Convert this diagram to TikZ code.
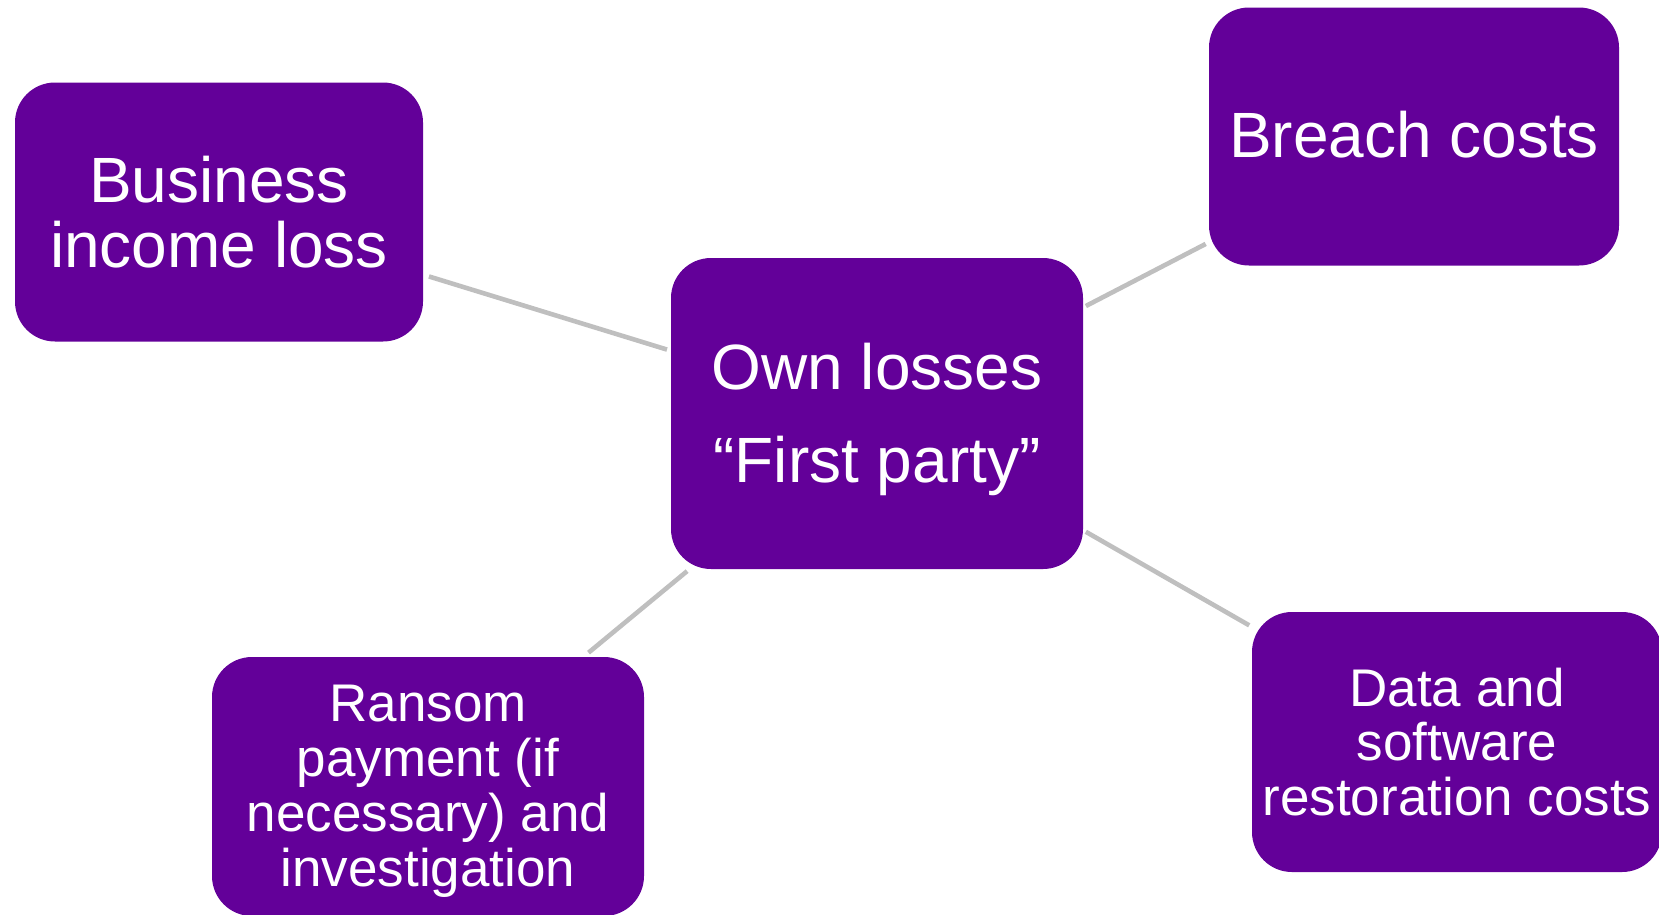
\documentclass[tikz,border=0pt]{standalone}
\usepackage{fontspec}
\setmainfont{Liberation Sans}
\definecolor{boxpurple}{HTML}{630099}
\definecolor{linkgray}{HTML}{BFBFBF}
\tikzset{
  box/.style={fill=boxpurple, draw=none, rounded corners=40pt, text=white, align=center, inner sep=0pt},
  lbl/.style={text=white, align=center, inner sep=0pt},
  link/.style={draw=linkgray, line width=4.6pt},
}
\begin{document}
\begin{tikzpicture}[x=1pt,y=-1pt]
\useasboundingbox (0,0) rectangle (1659,914);
\clip (0,0) rectangle (1659,914);
\node[box, minimum width=408pt, minimum height=259pt, font=\fontsize{64}{65.6}\selectfont] (bi) at (219,212) {Business\\income loss};
\node[box, minimum width=410pt, minimum height=258pt] (br) at (1414,136.5) {};
\node[lbl, font=\fontsize{64}{66}\selectfont] (brt) at (1414,134.5) {Breach costs};
\node[box, minimum width=412pt, minimum height=311pt] (own) at (877,413.5) {};
\node[lbl, font=\fontsize{64}{93}\selectfont] (ownt) at (877,419) {Own losses\\“First party”};
\node[box, minimum width=432pt, minimum height=259pt] (ra) at (428,786.5) {};
\node[lbl, font=\fontsize{53}{55}\selectfont] (rat) at (428,791) {Ransom\\payment (if\\necessary) and\\investigation};
\node[box, minimum width=410pt, minimum height=260pt, font=\fontsize{53}{54.5}\selectfont] (da) at (1457,742) {Data and\\software\\restoration costs};
\draw[link, shorten <=6pt, shorten >=4pt] (bi) -- (own);
\draw[link, shorten <=3pt, shorten >=3.5pt] (own) -- (br);
\draw[link, shorten <=3pt, shorten >=3pt] (own) -- (da);
\draw[link, shorten <=3pt, shorten >=6.5pt] (own) -- (ra);
\end{tikzpicture}
\end{document}
